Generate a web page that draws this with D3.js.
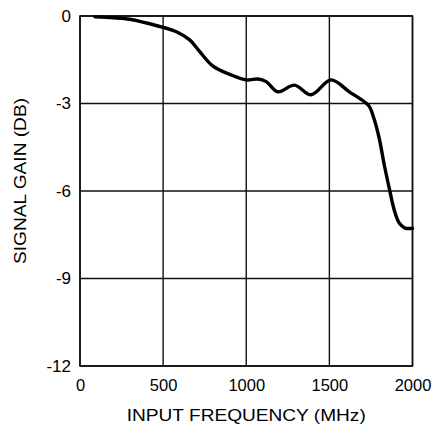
<!DOCTYPE html>
<html>
<head>
<meta charset="utf-8">
<script src="https://cdn.jsdelivr.net/npm/d3@7"></script>
<style>
  html, body { margin: 0; padding: 0; background: #fff; }
  svg { display: block; }
  text { font-family: "Liberation Sans", Arial, Helvetica, sans-serif; fill: #000; }
</style>
</head>
<body>
<svg id="chart" width="440" height="428"></svg>
<script>
// Data
const freqMHz = [90, 200, 300, 400, 500, 580, 660, 720, 800, 900, 1000, 1070, 1120, 1190, 1290, 1390, 1510, 1620, 1710, 1740, 1770, 1800, 1830, 1860, 1890, 1920, 1955, 2000];
const gainDB  = [-0.03, -0.06, -0.11, -0.24, -0.39, -0.54, -0.82, -1.22, -1.72, -2.0, -2.19, -2.16, -2.25, -2.6, -2.37, -2.7, -2.19, -2.6, -2.94, -3.1, -3.55, -4.2, -5.1, -5.9, -6.65, -7.1, -7.27, -7.28];
const xTicks = [0, 500, 1000, 1500, 2000];
const yTicks = [0, -3, -6, -9, -12];
const xTitle = "INPUT FREQUENCY (MHz)";
const yTitle = "SIGNAL GAIN (DB)";

const svg = d3.select("#chart");
const plotL = 80, plotR = 412.5, plotT = 16, plotB = 366;

const x = d3.scaleLinear().domain([0, 2000]).range([plotL, plotR]);
const y = d3.scaleLinear().domain([-12, 0]).range([plotB, plotT]);

// Grid lines
const grid = svg.append("g").attr("stroke", "#111").attr("stroke-width", 1.4);
grid.selectAll("line.v").data(xTicks).join("line")
  .attr("class", "v")
  .attr("x1", d => x(d)).attr("x2", d => x(d))
  .attr("y1", plotT).attr("y2", plotB);
grid.selectAll("line.h").data(yTicks).join("line")
  .attr("class", "h")
  .attr("x1", plotL).attr("x2", plotR)
  .attr("y1", d => y(d)).attr("y2", d => y(d));

// Frame
svg.append("rect")
  .attr("x", plotL).attr("y", plotT)
  .attr("width", plotR - plotL).attr("height", plotB - plotT)
  .attr("fill", "none").attr("stroke", "#111").attr("stroke-width", 1.6);

// Axes (labels only); plain hyphen for negatives as in the reference
const fmt = d => String(d);
const xAxis = d3.axisBottom(x).tickValues(xTicks).tickSize(0).tickPadding(13).tickFormat(fmt);
const gx = svg.append("g").attr("transform", `translate(0,${plotB})`).call(xAxis);
gx.select(".domain").remove();
gx.selectAll("text").attr("font-size", 16.5).style("font-family", "'Liberation Sans', Arial, sans-serif").attr("fill", "#000");

const yAxis = d3.axisLeft(y).tickValues(yTicks).tickSize(0).tickPadding(9).tickFormat(fmt);
const gy = svg.append("g").attr("transform", `translate(${plotL},0)`).call(yAxis);
gy.select(".domain").remove();
gy.selectAll("text").attr("font-size", 17).style("font-family", "'Liberation Sans', Arial, sans-serif").attr("fill", "#000");

// Curve
const pts = freqMHz.map((f, i) => [f, gainDB[i]]);
const line = d3.line()
  .x(d => x(d[0])).y(d => y(d[1]))
  .curve(d3.curveCatmullRom.alpha(0.5));
svg.append("path")
  .datum(pts)
  .attr("d", line)
  .attr("fill", "none")
  .attr("stroke", "#000")
  .attr("stroke-width", 3.4)
  .attr("stroke-linejoin", "round")
  .attr("stroke-linecap", "round");

// Titles
svg.append("text")
  .attr("x", (plotL + plotR) / 2).attr("y", 421)
  .attr("text-anchor", "middle")
  .attr("font-size", 16.5)
  .attr("textLength", 239).attr("lengthAdjust", "spacingAndGlyphs")
  .text(xTitle);

svg.append("text")
  .attr("transform", `translate(26,181) rotate(-90)`)
  .attr("text-anchor", "middle")
  .attr("font-size", 17)
  .attr("textLength", 166).attr("lengthAdjust", "spacingAndGlyphs")
  .text(yTitle);
</script>
</body>
</html>
